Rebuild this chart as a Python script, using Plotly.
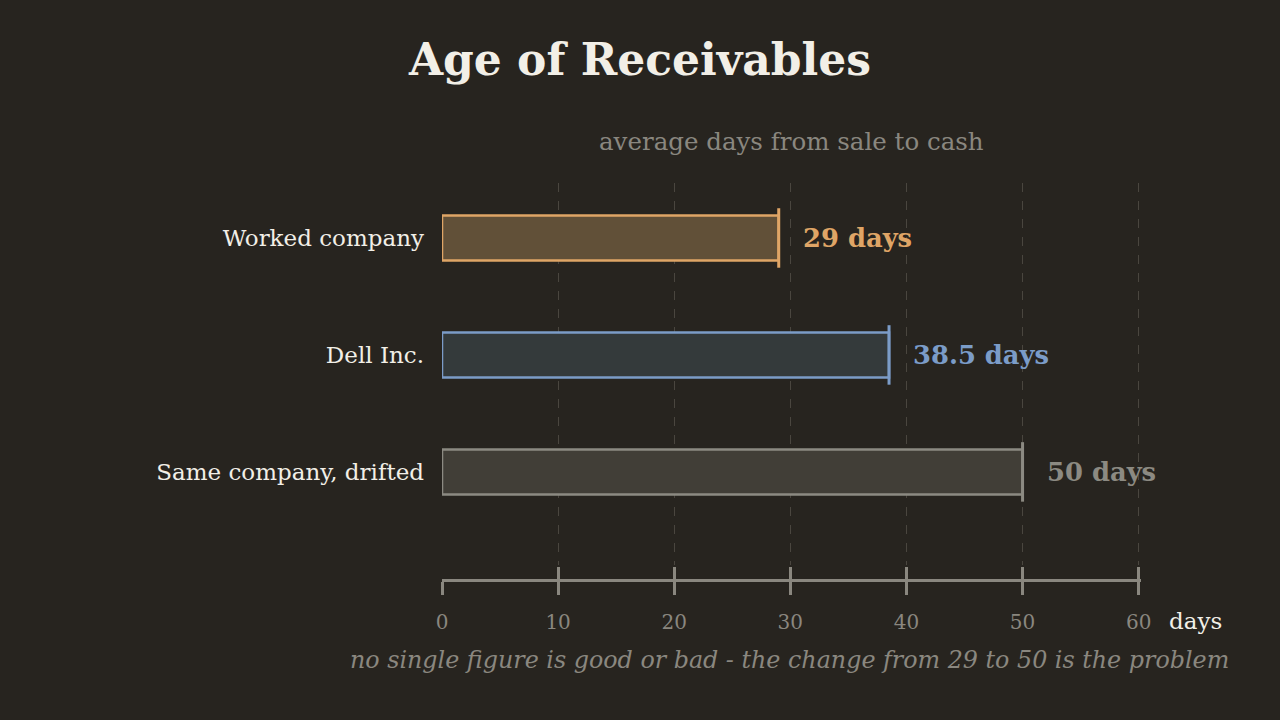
import plotly.graph_objects as go

# data
companies = ["Worked company", "Dell Inc.", "Same company, drifted"]
days = [29, 38.5, 50]
value_labels = ["29 days", "38.5 days", "50 days"]
x_ticks = [0, 10, 20, 30, 40, 50, 60]

# styling
bg = "#27241f"
strokes = ["#dfa566", "#7b9cc8", "#8c8a82"]
fills = ["#615038", "#343a3b", "#413e37"]
grey = "#8a877f"
light = "#f2efe7"
font = "DejaVu Serif"

fig = go.Figure()

fig.add_trace(go.Bar(
    y=companies,
    x=days,
    orientation="h",
    width=0.385,
    marker=dict(color=fills, line=dict(color=strokes, width=2.5)),
    hoverinfo="skip",
))

# end caps at the tip of each bar
fig.add_trace(go.Scatter(
    y=companies,
    x=days,
    xaxis="x2",
    mode="markers",
    marker=dict(symbol="line-ns", size=42.5, line=dict(color=strokes, width=3)),
    hoverinfo="skip",
))

# value labels
for c, v, lab, col in zip(companies, days, value_labels, strokes):
    fig.add_annotation(
        x=v, y=c, text="<b>" + lab + "</b>", showarrow=False,
        xanchor="left", xshift=22, font=dict(family=font, size=25.8, color=col),
    )

fig.add_annotation(
    x=0.5, y=1, xref="paper", yref="paper", text="average days from sale to cash",
    showarrow=False, yanchor="middle", yshift=42,
    font=dict(family=font, size=24.5, color=grey),
)
fig.add_annotation(
    x=1, y=0, xref="paper", yref="paper", text="days", showarrow=False,
    xanchor="left", yanchor="middle", xshift=26, yshift=-41,
    font=dict(family=font, size=23, color=light),
)
fig.add_annotation(
    x=1, y=0, xref="paper", yref="paper",
    text="<i>no single figure is good or bad - the change from 29 to 50 is the problem</i>",
    showarrow=False, xanchor="right", yanchor="middle", xshift=90, yshift=-80,
    font=dict(family=font, size=23.8, color=grey),
)

# range a touch past 60 so the last dashed grid line is kept
axis_common = dict(
    range=[0, 60.2], tickvals=x_ticks, anchor="free", position=0,
    tickcolor=grey, tickwidth=2.5, ticklen=13,
)
fig.update_layout(
    title=dict(
        text="<b>Age of Receivables</b>", x=0.5, xref="container", xanchor="center",
        y=1 - 60 / 720, yanchor="middle", font=dict(family=font, size=44, color=light),
    ),
    paper_bgcolor=bg,
    plot_bgcolor=bg,
    showlegend=False,
    width=1280,
    height=720,
    margin=dict(l=442, r=139, t=183, b=140),
    xaxis=dict(
        **axis_common,
        ticks="outside", showline=True, linecolor=grey, linewidth=3,
        showgrid=True, gridcolor="#4a463f", griddash="dash", gridwidth=1,
        zeroline=True, zerolinecolor=bg,
        tickfont=dict(family=font, size=20, color=grey), ticklabelstandoff=10,
    ),
    xaxis2=dict(
        **axis_common, overlaying="x", matches="x",
        ticks="inside", showline=False, showgrid=False, zeroline=False,
        showticklabels=False,
    ),
    yaxis=dict(
        domain=[0.038, 1], range=[2.795, -0.47], showgrid=False, zeroline=False,
        ticks="", tickfont=dict(family=font, size=23, color=light),
        ticklabelstandoff=17,
    ),
)

fig.write_html(
    "out.html",
    config={"displayModeBar": False},
    post_script="document.body.style.margin='0';",
)
